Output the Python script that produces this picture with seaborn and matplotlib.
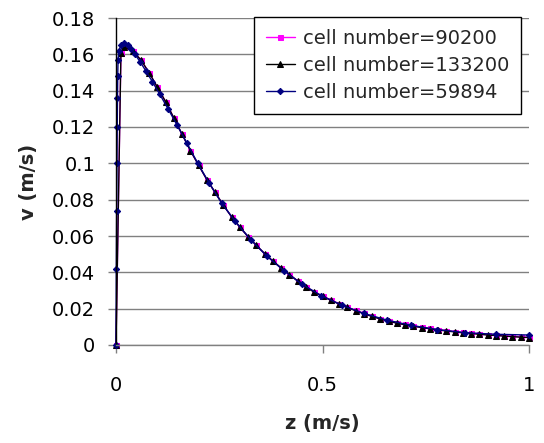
import pandas as pd
import matplotlib
matplotlib.use("Agg")
import matplotlib.pyplot as plt
import seaborn as sns

# velocity profile v(z) for three mesh sizes
z_fine = [0, 0.012, 0.02, 0.04, 0.06, 0.08, 0.10, 0.12, 0.14, 0.16, 0.18,
          0.20, 0.22, 0.24, 0.26, 0.28, 0.30, 0.32, 0.34, 0.36, 0.38,
          0.40, 0.42, 0.44, 0.46, 0.48, 0.50, 0.52, 0.54, 0.56, 0.58,
          0.60, 0.62, 0.64, 0.66, 0.68, 0.70, 0.72, 0.74, 0.76, 0.78,
          0.80, 0.82, 0.84, 0.86, 0.88, 0.90, 0.92, 0.94, 0.96, 0.98, 1.00]
v_90200 = [0, 0.161, 0.164, 0.162, 0.157, 0.150, 0.142, 0.134, 0.125, 0.116, 0.107,
           0.099, 0.091, 0.084, 0.077, 0.0705, 0.0648, 0.0596, 0.0548, 0.0503, 0.0462,
           0.0424, 0.0388, 0.0353, 0.0320, 0.0293, 0.0270, 0.0248, 0.0228, 0.0209, 0.0191,
           0.0174, 0.0159, 0.0145, 0.0133, 0.0122, 0.0113, 0.0105, 0.0098, 0.0091, 0.0085,
           0.0079, 0.0074, 0.0069, 0.0065, 0.0061, 0.0057, 0.0054, 0.0051, 0.0048, 0.0045, 0.0043]
v_133200 = [0, 0.161, 0.164, 0.162, 0.157, 0.150, 0.142, 0.134, 0.125, 0.116, 0.107,
            0.099, 0.091, 0.084, 0.077, 0.0705, 0.0648, 0.0596, 0.0548, 0.0503, 0.0462,
            0.0424, 0.0388, 0.0352, 0.0318, 0.0291, 0.0268, 0.0246, 0.0226, 0.0207, 0.0189,
            0.0172, 0.0157, 0.0143, 0.0131, 0.0120, 0.0111, 0.0103, 0.0096, 0.0089, 0.0083,
            0.0077, 0.0072, 0.0067, 0.0063, 0.0059, 0.0055, 0.0052, 0.0049, 0.0046, 0.0043, 0.0041]
z_coarse = [0, 0.0008, 0.0016, 0.0024, 0.003, 0.0036, 0.0042, 0.005, 0.007, 0.012,
            0.02, 0.028, 0.036, 0.046, 0.058, 0.072, 0.088, 0.106, 0.126, 0.148,
            0.172, 0.198, 0.226, 0.256, 0.289, 0.326, 0.365, 0.406, 0.45, 0.497,
            0.547, 0.60, 0.656, 0.715, 0.778, 0.845, 0.92, 1.0]
v_59894 = [0, 0.042, 0.074, 0.100, 0.120, 0.136, 0.148, 0.157, 0.162, 0.165,
           0.166, 0.165, 0.163, 0.160, 0.156, 0.151, 0.145, 0.138, 0.130, 0.121,
           0.111, 0.100, 0.089, 0.078, 0.068, 0.058, 0.049, 0.041, 0.0335, 0.0272,
           0.0219, 0.0174, 0.0137, 0.0108, 0.0085, 0.0068, 0.0059, 0.0055]

series = [
    ("cell number=90200", z_fine, v_90200, "#FF00FF", "s", 3.6),
    ("cell number=133200", z_fine, v_133200, "#000000", "^", 3.8),
    ("cell number=59894", z_coarse, v_59894, "#000080", "D", 3.2),
]

x_ticks = [0, 0.5, 1]
x_tick_labels = ["0", "0.5", "1"]
y_ticks = [0, 0.02, 0.04, 0.06, 0.08, 0.10, 0.12, 0.14, 0.16, 0.18]
y_tick_labels = ["0", "0.02", "0.04", "0.06", "0.08", "0.1", "0.12", "0.14", "0.16", "0.18"]

sns.set_theme(style="white")
plt.rcParams["font.family"] = ["DejaVu Sans"]

W, H = 544, 443
fig = plt.figure(figsize=(W / 100, H / 100), dpi=100)
ax = fig.add_axes([116 / W, 1 - 345 / H, (529 - 116) / W, (345 - 18) / H])

for name, zs, vs, col, mk, ms in series:
    df = pd.DataFrame({"z": zs, "v": vs})
    sns.lineplot(data=df, x="z", y="v", ax=ax, color=col, marker=mk,
                 markersize=ms, markeredgecolor=col,
                 linewidth=1, estimator=None, sort=False, label=name,
                 clip_on=False)

ax.set_xlim(0, 1)
ax.set_ylim(0, 0.18)
ax.set_xticks(x_ticks)
ax.set_xticklabels(x_tick_labels)
ax.set_yticks(y_ticks)
ax.set_yticklabels(y_tick_labels)
ax.tick_params(axis="both", labelsize=14, colors="#000000")
ax.tick_params(axis="y", length=6, width=1, color="#808080", pad=9, left=True)
ax.tick_params(axis="x", length=6, width=1, color="#808080", pad=16, bottom=True)

ax.yaxis.grid(True, color="#808080", linewidth=1)
ax.xaxis.grid(False)
ax.set_axisbelow(True)
for s in ["top", "right"]:
    ax.spines[s].set_visible(False)
ax.spines["left"].set_color("#000000")
ax.spines["left"].set_linewidth(1)
ax.spines["bottom"].set_color("#808080")
ax.spines["bottom"].set_linewidth(1)

ax.set_xlabel("z (m/s)", fontsize=14, fontweight="bold", labelpad=14)
ax.set_ylabel("v (m/s)", fontsize=14, fontweight="bold", labelpad=10)

handles, labels = ax.get_legend_handles_labels()
leg = ax.legend(handles, labels, loc="upper left",
                bbox_to_anchor=(254 / W, 1 - 17 / H), bbox_transform=fig.transFigure,
                fontsize=14, frameon=True, fancybox=False, framealpha=1,
                edgecolor="#000000", handlelength=1.5, handletextpad=0.4,
                labelspacing=0.42, borderpad=0.6, borderaxespad=0)
leg.get_frame().set_linewidth(1)

fig.savefig("out.png", dpi=100)
